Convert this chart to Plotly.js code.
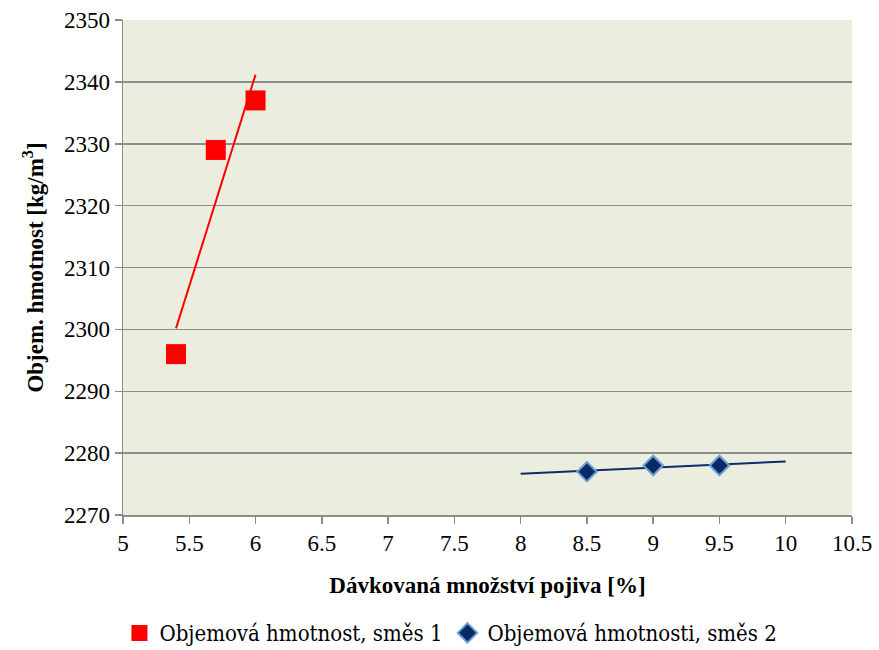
<!DOCTYPE html>
<html>
<head>
<meta charset="utf-8">
<script src="https://cdn.plot.ly/plotly-3.0.1.min.js"></script>
<style>
  html, body { margin: 0; padding: 0; background: #ffffff; }
  #chart { width: 879px; height: 650px; }
</style>
</head>
<body>
<div id="chart"></div>
<script>
// Dosage of binder [%] and bulk density [kg/m3] for two mixtures
const mix1Dose = [5.4, 5.7, 6.0];
const mix1Density = [2296, 2329, 2337];
const mix2Dose = [8.5, 9.0, 9.5];
const mix2Density = [2277, 2278, 2278];

// Extent of the linear trend lines along the x axis
const mix1TrendRange = [5.4, 6.0];
const mix2TrendRange = [8.0, 10.0];

// Axis tick positions and their labels
const xTickVals = [5, 5.5, 6, 6.5, 7, 7.5, 8, 8.5, 9, 9.5, 10, 10.5];
const xTickText = ['5', '5.5', '6', '6.5', '7', '7.5', '8', '8.5', '9', '9.5', '10', '10.5'];
const yTickVals = [2270, 2280, 2290, 2300, 2310, 2320, 2330, 2340, 2350];
const yTickText = ['2270', '2280', '2290', '2300', '2310', '2320', '2330', '2340', '2350'];

const mix1Name = 'Objemová hmotnost, směs 1';
const mix2Name = 'Objemová hmotnosti, směs 2';
const xTitle = 'Dávkovaná množství pojiva [%]';
const yTitle = 'Objem. hmotnost [kg/m<sup>3</sup>]';

// Least-squares line through the points, evaluated at the range ends
function linearTrend(xs, ys, range) {
  const n = xs.length;
  const mx = xs.reduce((a, b) => a + b, 0) / n;
  const my = ys.reduce((a, b) => a + b, 0) / n;
  let sxy = 0, sxx = 0;
  for (let i = 0; i < n; i++) {
    sxy += (xs[i] - mx) * (ys[i] - my);
    sxx += (xs[i] - mx) * (xs[i] - mx);
  }
  const k = sxy / sxx;
  const q = my - k * mx;
  return { x: range.slice(), y: range.map(v => k * v + q) };
}

const t1 = linearTrend(mix1Dose, mix1Density, mix1TrendRange);
const t2 = linearTrend(mix2Dose, mix2Density, mix2TrendRange);

const font = "'Liberation Serif', 'Times New Roman', serif";
const legendFont = "'DejaVu Serif Condensed', 'DejaVu Serif', serif";
const gridColor = '#8c8c8c';

const traces = [
  {
    x: t1.x, y: t1.y, mode: 'lines', showlegend: false, hoverinfo: 'skip',
    line: { color: '#ff0000', width: 2 }
  },
  {
    x: t2.x, y: t2.y, mode: 'lines', showlegend: false, hoverinfo: 'skip',
    line: { color: '#0b2d6b', width: 2 }
  },
  {
    x: mix1Dose, y: mix1Density, mode: 'markers', name: mix1Name,
    marker: { symbol: 'square', size: 20, color: '#ff0000' }
  },
  {
    x: mix2Dose, y: mix2Density, mode: 'markers', name: mix2Name,
    marker: { symbol: 'diamond', size: 15, color: '#0a2a66',
              line: { color: '#6a9fd8', width: 2 } }
  }
];

const layout = {
  width: 879, height: 650,
  margin: { l: 123, r: 27, t: 20, b: 135, autoexpand: false },
  paper_bgcolor: '#ffffff',
  plot_bgcolor: '#ebeedf',
  font: { family: font, size: 22, color: '#000000' },
  showlegend: true,
  legend: {
    orientation: 'h', xref: 'container', yref: 'container',
    x: 0.513, xanchor: 'center', y: 0.026, yanchor: 'middle',
    font: { family: legendFont, size: 22, color: '#000000' },
    itemclick: false, itemdoubleclick: false,
    tracegroupgap: 0, itemwidth: 20
  },
  xaxis: {
    range: [5, 10.5], tickmode: 'array', tickvals: xTickVals, ticktext: xTickText,
    automargin: false,
    showgrid: false, zeroline: false,
    showline: true, linecolor: gridColor, linewidth: 1.5,
    ticks: 'outside', ticklen: 7, tickwidth: 1.5, tickcolor: gridColor,
    tickfont: { family: font, size: 23, color: '#000000' },
    title: { text: '<b>' + xTitle + '</b>', standoff: 22,
             font: { family: font, size: 23, color: '#000000' } }
  },
  yaxis: {
    range: [2270, 2350], tickmode: 'array', tickvals: yTickVals, ticktext: yTickText,
    automargin: false,
    showgrid: true, gridcolor: gridColor, gridwidth: 1.5,
    zeroline: false,
    showline: true, linecolor: gridColor, linewidth: 1.5,
    ticks: 'outside', ticklen: 7, tickwidth: 1.5, tickcolor: gridColor,
    tickfont: { family: font, size: 23, color: '#000000' },
    title: { text: '<b>' + yTitle + '</b>', standoff: 14,
             font: { family: font, size: 23, color: '#000000' } }
  }
};

Plotly.newPlot('chart', traces, layout, { displayModeBar: false, staticPlot: true });
</script>
</body>
</html>
